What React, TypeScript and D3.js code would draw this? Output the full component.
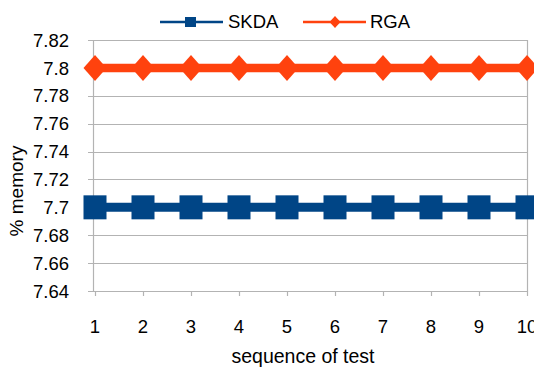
import * as d3 from 'd3';
import { useEffect, useRef } from 'react';

// données
const tests = [1, 2, 3, 4, 5, 6, 7, 8, 9, 10];
const skda = [7.7, 7.7, 7.7, 7.7, 7.7, 7.7, 7.7, 7.7, 7.7, 7.7];
const rga = [7.8, 7.8, 7.8, 7.8, 7.8, 7.8, 7.8, 7.8, 7.8, 7.8];
const yTicks = [7.64, 7.66, 7.68, 7.7, 7.72, 7.74, 7.76, 7.78, 7.8, 7.82];

const W = 534;
const H = 369;
const FONT = 'Liberation Sans, Arial, sans-serif';
const FS = 18.5;

export default function App() {
  const svgRef = useRef<SVGSVGElement | null>(null);

  useEffect(() => {
    if (!svgRef.current) return;
    const svg = d3.select(svgRef.current);
    svg.selectAll('*').remove();

    const left = 93, right = 527, top = 40, bottom = 291;
    const x = d3.scaleLinear().domain([1, 10]).range([left + 2, right]);
    const y = d3.scaleLinear().domain([7.64, 7.82]).range([bottom, top]);

    const g = svg.append('g').attr('font-family', FONT).attr('fill', '#000');

    // grille horizontale
    g.append('g')
      .selectAll('line')
      .data(yTicks)
      .join('line')
      .attr('x1', left - 5)
      .attr('x2', right)
      .attr('y1', d => Math.round(y(d)) + 0.5)
      .attr('y2', d => Math.round(y(d)) + 0.5)
      .attr('stroke', '#b3b3b3')
      .attr('stroke-width', 1.2);

    // bordures gauche / droite
    [left, right].forEach(px => {
      g.append('line')
        .attr('x1', px + 0.5).attr('x2', px + 0.5)
        .attr('y1', top).attr('y2', bottom + 0.5)
        .attr('stroke', '#b3b3b3')
        .attr('stroke-width', 1.2);
    });

    // ticks en bas
    g.append('g')
      .selectAll('line')
      .data(tests)
      .join('line')
      .attr('x1', d => Math.round(x(d)) + 0.5)
      .attr('x2', d => Math.round(x(d)) + 0.5)
      .attr('y1', bottom)
      .attr('y2', bottom + 5)
      .attr('stroke', '#b3b3b3')
      .attr('stroke-width', 1.2);

    // étiquettes axe Y
    g.append('g')
      .selectAll('text')
      .data(yTicks)
      .join('text')
      .attr('x', 69)
      .attr('y', d => y(d))
      .attr('dy', '0.36em')
      .attr('text-anchor', 'end')
      .attr('font-size', FS)
      .text(d => d3.format('')(+d.toFixed(2)));

    // étiquettes axe X
    g.append('g')
      .selectAll('text')
      .data(tests)
      .join('text')
      .attr('x', d => x(d))
      .attr('y', 333)
      .attr('text-anchor', 'middle')
      .attr('font-size', FS)
      .text(d => d);

    g.append('text')
      .attr('x', 303)
      .attr('y', 363)
      .attr('text-anchor', 'middle')
      .attr('font-size', 19.5)
      .text('sequence of test');

    g.append('text')
      .attr('transform', `translate(23,191) rotate(-90)`)
      .attr('text-anchor', 'middle')
      .attr('font-size', 19)
      .text('% memory');

    const line = d3.line<number>().x((_, i) => x(tests[i])).y(d => y(d));

    // SKDA
    g.append('path')
      .attr('d', line(skda))
      .attr('fill', 'none')
      .attr('stroke', '#004586')
      .attr('stroke-width', 9);
    g.append('g')
      .selectAll('rect')
      .data(skda)
      .join('rect')
      .attr('x', (_, i) => x(tests[i]) - 11.5)
      .attr('y', d => y(d) - 12)
      .attr('width', 23)
      .attr('height', 24)
      .attr('fill', '#004586');

    // RGA
    g.append('path')
      .attr('d', line(rga))
      .attr('fill', 'none')
      .attr('stroke', '#ff420e')
      .attr('stroke-width', 8.5);
    const diamond = (cx: number, cy: number, rx: number, ry: number) =>
      `M${cx},${cy - ry}L${cx + rx},${cy}L${cx},${cy + ry}L${cx - rx},${cy}Z`;
    g.append('g')
      .selectAll('path')
      .data(rga)
      .join('path')
      .attr('d', (d, i) => diamond(x(tests[i]), y(d), 11.5, 13))
      .attr('fill', '#ff420e');

    // légende
    const lg = g.append('g');
    lg.append('line').attr('x1', 160).attr('x2', 223).attr('y1', 22).attr('y2', 22)
      .attr('stroke', '#004586').attr('stroke-width', 2.5);
    lg.append('rect').attr('x', 185).attr('y', 17).attr('width', 11).attr('height', 10).attr('fill', '#004586');
    lg.append('text').attr('x', 228).attr('y', 28).attr('font-size', FS).text('SKDA');
    lg.append('line').attr('x1', 303).attr('x2', 366).attr('y1', 22).attr('y2', 22)
      .attr('stroke', '#ff420e').attr('stroke-width', 2.5);
    lg.append('path').attr('d', diamond(335, 22, 5.5, 6)).attr('fill', '#ff420e');
    lg.append('text').attr('x', 370).attr('y', 28).attr('font-size', FS).text('RGA');
  }, []);

  return (
    <svg
      ref={svgRef}
      width={W}
      height={H}
      style={{ position: 'absolute', left: 0, top: 0, background: '#fff' }}
    />
  );
}
